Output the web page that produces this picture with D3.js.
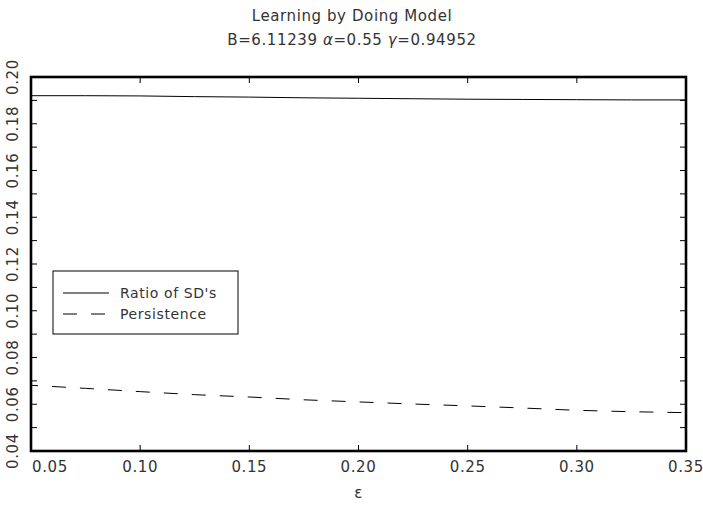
<!DOCTYPE html>
<html>
<head>
<meta charset="utf-8">
<script src="https://cdn.jsdelivr.net/npm/d3@7"></script>
<style>
  body { margin: 0; background: #fff; }
  svg text { font-family: "DejaVu Sans", "Liberation Sans", sans-serif; fill: #333; letter-spacing: 0.6px; }
</style>
</head>
<body>
<svg id="chart" width="703" height="510"></svg>
<script>
// Learning-by-doing model: ratio of standard deviations and persistence against epsilon
const epsilon     = [0.05, 0.075, 0.10, 0.125, 0.15, 0.175, 0.20, 0.225, 0.25, 0.275, 0.30, 0.325, 0.35];
const ratioOfSDs  = [0.1920, 0.1920, 0.1919, 0.1916, 0.1914, 0.1911, 0.1909, 0.1907, 0.1905, 0.1904, 0.1903, 0.1902, 0.1902];
const persistence = [0.0681, 0.0668, 0.0654, 0.0641, 0.0631, 0.0619, 0.0610, 0.0601, 0.0593, 0.0584, 0.0574, 0.0568, 0.0564];
const xTicks = [0.05, 0.10, 0.15, 0.20, 0.25, 0.30, 0.35];
const yTicks = [0.04, 0.06, 0.08, 0.10, 0.12, 0.14, 0.16, 0.18, 0.20];
const yMinorTicks = [0.05, 0.07, 0.09, 0.11, 0.13, 0.15, 0.17, 0.19];
const seriesNames = ["Ratio of SD's", "Persistence"];

const svg = d3.select("#chart");
const plotL = 31, plotR = 686, plotT = 77, plotB = 451;

const x = d3.scaleLinear().domain([0.05, 0.35]).range([plotL, plotR]);
const y = d3.scaleLinear().domain([0.04, 0.20]).range([plotB, plotT]);

// Title
svg.append("text").attr("x", 352).attr("y", 21).attr("text-anchor", "middle")
  .attr("font-size", 15).text("Learning by Doing Model");
const sub = svg.append("text").attr("x", 352).attr("y", 45).attr("text-anchor", "middle")
  .attr("font-size", 15);
sub.append("tspan").text("B=6.11239 ");
sub.append("tspan").attr("font-style", "italic").text("α");
sub.append("tspan").text("=0.55 ");
sub.append("tspan").attr("font-style", "italic").text("γ");
sub.append("tspan").text("=0.94952");

// Tick marks on all four sides (inward)
const tickLen = 6;
const allY = yTicks.concat(yMinorTicks);
svg.append("g").selectAll("line").data(allY).join("line")
  .attr("x1", plotL).attr("x2", plotL + tickLen)
  .attr("y1", d => y(d)).attr("y2", d => y(d))
  .attr("stroke", "#000").attr("stroke-width", 1);
svg.append("g").selectAll("line").data(allY).join("line")
  .attr("x1", plotR).attr("x2", plotR - tickLen)
  .attr("y1", d => y(d)).attr("y2", d => y(d))
  .attr("stroke", "#000").attr("stroke-width", 1);
svg.append("g").selectAll("line").data(xTicks).join("line")
  .attr("x1", d => x(d)).attr("x2", d => x(d))
  .attr("y1", plotB).attr("y2", plotB - tickLen)
  .attr("stroke", "#000").attr("stroke-width", 1);
svg.append("g").selectAll("line").data(xTicks).join("line")
  .attr("x1", d => x(d)).attr("x2", d => x(d))
  .attr("y1", plotT).attr("y2", plotT + tickLen)
  .attr("stroke", "#000").attr("stroke-width", 1);

// Frame
svg.append("rect").attr("x", plotL).attr("y", plotT)
  .attr("width", plotR - plotL).attr("height", plotB - plotT)
  .attr("fill", "none").attr("stroke", "#000").attr("stroke-width", 2.6);

// X tick labels
svg.append("g").selectAll("text").data(xTicks).join("text")
  .attr("x", (d, i) => i === 0 ? x(d) + 1 : x(d))
  .attr("y", 472)
  .attr("text-anchor", (d, i) => i === 0 ? "start" : "middle")
  .attr("font-size", 15)
  .text(d => d3.format(".2f")(d));

// Y tick labels (rotated)
svg.append("g").selectAll("text").data(yTicks).join("text")
  .attr("transform", d => `translate(18,${y(d)}) rotate(-90)`)
  .attr("text-anchor", "middle")
  .attr("font-size", 15)
  .text(d => d3.format(".2f")(d));

// X axis title
svg.append("text").attr("x", x(0.20)).attr("y", 498).attr("text-anchor", "middle")
  .attr("font-size", 15).text("ε");

// Series lines
const line = d3.line().x((d, i) => x(epsilon[i])).y(d => y(d));
svg.append("path").datum(ratioOfSDs).attr("d", line)
  .attr("fill", "none").attr("stroke", "#000").attr("stroke-width", 1);
svg.append("path").datum(persistence).attr("d", line)
  .attr("fill", "none").attr("stroke", "#000").attr("stroke-width", 1)
  .attr("stroke-dasharray", "14,14").attr("stroke-dashoffset", 7);

// Legend
const lg = svg.append("g");
lg.append("rect").attr("x", 53).attr("y", 271).attr("width", 185).attr("height", 63)
  .attr("fill", "#fff").attr("stroke", "#000").attr("stroke-width", 1);
const dashes = [null, "14,14"];
seriesNames.forEach((name, i) => {
  const yy = 293 + i * 21;
  lg.append("line").attr("x1", 63).attr("x2", 109).attr("y1", yy).attr("y2", yy)
    .attr("stroke", "#000").attr("stroke-width", 1)
    .attr("stroke-dasharray", dashes[i]);
  lg.append("text").attr("x", 120).attr("y", yy + 5).attr("font-size", 14).text(name);
});
</script>
</body>
</html>
